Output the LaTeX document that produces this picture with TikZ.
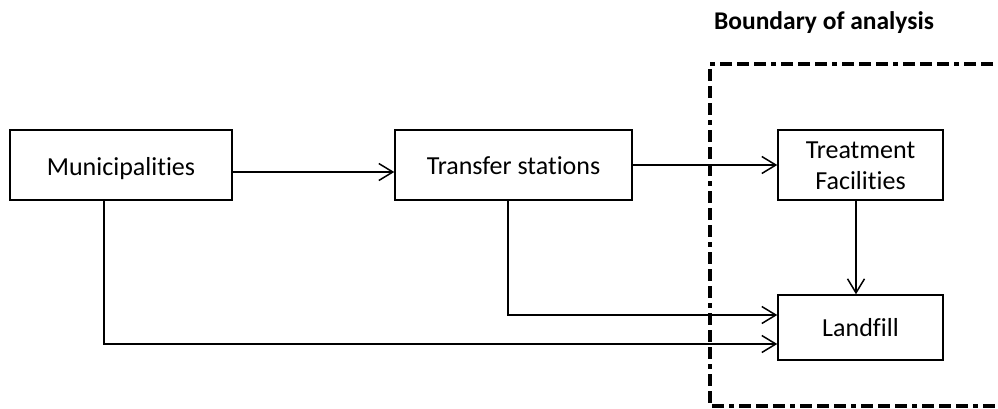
\documentclass[tikz,border=0pt]{standalone}
\usepackage{fontspec}
\setmainfont{Carlito}[Ligatures=NoCommon]
\usetikzlibrary{arrows.meta}
\newcommand{\lowered}[2]{\raisebox{-#1}[0pt][0pt]{#2}}
\begin{document}
\begin{tikzpicture}[x=1pt,y=-1pt,
  box/.style={draw=black,line width=1.5pt,fill=white,inner sep=0pt,align=center,font=\fontsize{26}{31}\selectfont},
  arr/.style={line width=1.5pt,-{Straight Barb[length=14pt,width=17pt,line width=1.5pt]}},
  boundary/.style={line width=4pt,dash pattern=on 12pt off 5pt on 12pt off 5pt on 12pt off 5pt on 5pt off 5pt}]
\useasboundingbox (0,0) rectangle (998,408);
\node[box,minimum width=222pt,minimum height=70pt] (mun) at (121,165) {\lowered{10pt}{Municipalities}};
\node[box,minimum width=237pt,minimum height=70pt] (tr) at (513.5,165) {\lowered{9pt}{Transfer stations}};
\node[box,minimum width=165pt,minimum height=70pt] (trt) at (860.5,165) {\lowered{24pt}{\parbox[b]{160pt}{\centering Treatment\\Facilities}}};
\node[box,minimum width=165pt,minimum height=65pt] (lf) at (860.5,327.5) {\lowered{8.5pt}{Landfill}};
\node[font=\bfseries\fontsize{25.5}{28}\selectfont] (title) at (824,23) {Boundary of analysis};
\draw[boundary] (1010,64) -- (710,64) -- (710,406) -- (1010,406);
\draw[arr] (mun.east |- 0,172) -- (tr.west |- 0,172);
\draw[arr] (tr.east) -- (trt.west);
\draw[arr] (trt.south -| 856,0) -- (lf.north -| 856,0);
\draw[arr] (tr.south -| 508,0) |- (lf.west |- 0,315);
\draw[arr] (mun.south -| 104,0) |- (lf.west |- 0,344);
\end{tikzpicture}
\end{document}
